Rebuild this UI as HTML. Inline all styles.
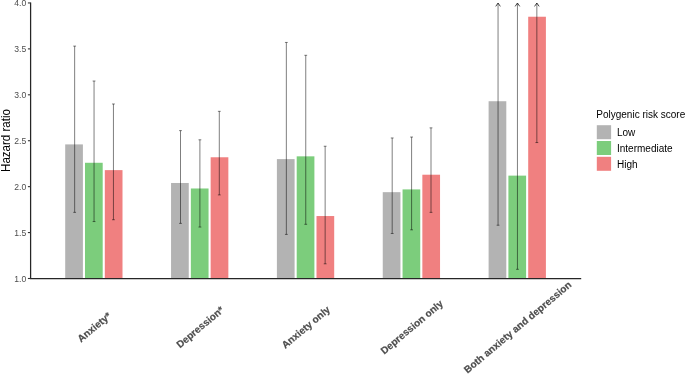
<!DOCTYPE html>
<html><head><meta charset="utf-8"><title>chart</title>
<style>
html,body{margin:0;padding:0;background:#fff;}
body{width:685px;height:374px;overflow:hidden;font-family:"Liberation Sans",sans-serif;}
svg{display:block;will-change:transform;}
text{font-family:"Liberation Sans",sans-serif;}
</style></head><body>
<svg width="685" height="374" viewBox="0 0 685 374">
<rect width="685" height="374" fill="#fff"/>

<rect x="65.20" y="144.40" width="17.70" height="134.10" fill="#b3b3b3"/>
<rect x="85.00" y="162.77" width="17.70" height="115.73" fill="#7ccd7c"/>
<rect x="104.80" y="170.12" width="17.70" height="108.38" fill="#f08080"/>
<rect x="171.05" y="182.98" width="17.70" height="95.52" fill="#b3b3b3"/>
<rect x="190.85" y="188.49" width="17.70" height="90.01" fill="#7ccd7c"/>
<rect x="210.65" y="157.26" width="17.70" height="121.24" fill="#f08080"/>
<rect x="276.90" y="159.10" width="17.70" height="119.40" fill="#b3b3b3"/>
<rect x="296.70" y="156.34" width="17.70" height="122.16" fill="#7ccd7c"/>
<rect x="316.50" y="216.04" width="17.70" height="62.46" fill="#f08080"/>
<rect x="382.75" y="192.16" width="17.70" height="86.34" fill="#b3b3b3"/>
<rect x="402.55" y="189.41" width="17.70" height="89.09" fill="#7ccd7c"/>
<rect x="422.35" y="174.71" width="17.70" height="103.79" fill="#f08080"/>
<rect x="488.60" y="101.23" width="17.70" height="177.27" fill="#b3b3b3"/>
<rect x="508.40" y="175.63" width="17.70" height="102.87" fill="#7ccd7c"/>
<rect x="528.20" y="16.73" width="17.70" height="261.77" fill="#f08080"/>
<path d="M74.65 212.37V46.12M73.25 212.37h2.8M73.25 46.12h2.8" fill="none" stroke="rgba(0,0,0,0.5)" stroke-width="1"/>
<path d="M94.05 221.55V81.02M92.65 221.55h2.8M92.65 81.02h2.8" fill="none" stroke="rgba(0,0,0,0.5)" stroke-width="1"/>
<path d="M113.45 219.72V103.99M112.05 219.72h2.8M112.05 103.99h2.8" fill="none" stroke="rgba(0,0,0,0.5)" stroke-width="1"/>
<path d="M180.50 223.39V130.62M179.10 223.39h2.8M179.10 130.62h2.8" fill="none" stroke="rgba(0,0,0,0.5)" stroke-width="1"/>
<path d="M199.90 227.06V139.81M198.50 227.06h2.8M198.50 139.81h2.8" fill="none" stroke="rgba(0,0,0,0.5)" stroke-width="1"/>
<path d="M219.30 194.92V111.33M217.90 194.92h2.8M217.90 111.33h2.8" fill="none" stroke="rgba(0,0,0,0.5)" stroke-width="1"/>
<path d="M286.35 234.41V42.45M284.95 234.41h2.8M284.95 42.45h2.8" fill="none" stroke="rgba(0,0,0,0.5)" stroke-width="1"/>
<path d="M305.75 224.31V55.30M304.35 224.31h2.8M304.35 55.30h2.8" fill="none" stroke="rgba(0,0,0,0.5)" stroke-width="1"/>
<path d="M325.15 263.80V146.24M323.75 263.80h2.8M323.75 146.24h2.8" fill="none" stroke="rgba(0,0,0,0.5)" stroke-width="1"/>
<path d="M392.20 233.49V137.97M390.80 233.49h2.8M390.80 137.97h2.8" fill="none" stroke="rgba(0,0,0,0.5)" stroke-width="1"/>
<path d="M411.60 229.82V137.05M410.20 229.82h2.8M410.20 137.05h2.8" fill="none" stroke="rgba(0,0,0,0.5)" stroke-width="1"/>
<path d="M431.00 212.37V127.87M429.60 212.37h2.8M429.60 127.87h2.8" fill="none" stroke="rgba(0,0,0,0.5)" stroke-width="1"/>
<path d="M498.05 225.23V3.50M496.65 225.23h2.8" fill="none" stroke="rgba(0,0,0,0.5)" stroke-width="1"/>
<path d="M495.75 6.40L498.05 3.00L500.35 6.40" fill="none" stroke="rgba(0,0,0,0.8)" stroke-width="0.9"/>
<path d="M517.45 269.31V3.50M516.05 269.31h2.8" fill="none" stroke="rgba(0,0,0,0.5)" stroke-width="1"/>
<path d="M515.15 6.40L517.45 3.00L519.75 6.40" fill="none" stroke="rgba(0,0,0,0.8)" stroke-width="0.9"/>
<path d="M536.85 142.56V3.50M535.45 142.56h2.8" fill="none" stroke="rgba(0,0,0,0.5)" stroke-width="1"/>
<path d="M534.55 6.40L536.85 3.00L539.15 6.40" fill="none" stroke="rgba(0,0,0,0.8)" stroke-width="0.9"/>
<path d="M30.6 2.4V278.5H581.2" fill="none" stroke="#262626" stroke-width="1.25"/>
<path d="M27.90 278.50H30.6" stroke="#333" stroke-width="1.1"/>
<text x="26.3" y="281.95" font-size="8.6" fill="#4d4d4d" text-anchor="end">1.0</text>
<path d="M27.90 232.57H30.6" stroke="#333" stroke-width="1.1"/>
<text x="26.3" y="236.02" font-size="8.6" fill="#4d4d4d" text-anchor="end">1.5</text>
<path d="M27.90 186.65H30.6" stroke="#333" stroke-width="1.1"/>
<text x="26.3" y="190.10" font-size="8.6" fill="#4d4d4d" text-anchor="end">2.0</text>
<path d="M27.90 140.73H30.6" stroke="#333" stroke-width="1.1"/>
<text x="26.3" y="144.18" font-size="8.6" fill="#4d4d4d" text-anchor="end">2.5</text>
<path d="M27.90 94.80H30.6" stroke="#333" stroke-width="1.1"/>
<text x="26.3" y="98.25" font-size="8.6" fill="#4d4d4d" text-anchor="end">3.0</text>
<path d="M27.90 48.88H30.6" stroke="#333" stroke-width="1.1"/>
<text x="26.3" y="52.33" font-size="8.6" fill="#4d4d4d" text-anchor="end">3.5</text>
<path d="M27.90 2.95H30.6" stroke="#333" stroke-width="1.1"/>
<text x="26.3" y="6.40" font-size="8.6" fill="#4d4d4d" text-anchor="end">4.0</text>
<text transform="translate(9.6,140.5) rotate(-90)" font-size="12.6" textLength="62.8" lengthAdjust="spacingAndGlyphs" fill="#000" text-anchor="middle">Hazard ratio</text>
<text transform="translate(94.15,327.10) rotate(-40)" y="3.5" font-size="10" font-weight="bold" fill="#4d4d4d" stroke="#4d4d4d" stroke-width="0.2" text-anchor="middle">Anxiety*</text>
<text transform="translate(200.00,327.10) rotate(-40)" y="3.5" font-size="10" font-weight="bold" fill="#4d4d4d" stroke="#4d4d4d" stroke-width="0.2" text-anchor="middle">Depression*</text>
<text transform="translate(305.85,327.10) rotate(-40)" y="3.5" font-size="10" font-weight="bold" fill="#4d4d4d" stroke="#4d4d4d" stroke-width="0.2" text-anchor="middle">Anxiety only</text>
<text transform="translate(411.70,327.10) rotate(-40)" y="3.5" font-size="10" font-weight="bold" fill="#4d4d4d" stroke="#4d4d4d" stroke-width="0.2" text-anchor="middle">Depression only</text>
<text transform="translate(517.55,327.10) rotate(-40)" y="3.5" font-size="10" font-weight="bold" fill="#4d4d4d" stroke="#4d4d4d" stroke-width="0.2" text-anchor="middle">Both anxiety and depression</text>
<text x="596.3" y="118.0" font-size="10" fill="#000">Polygenic risk score</text>
<rect x="596.8" y="125.20" width="14.3" height="14" fill="#b3b3b3"/>
<text x="617" y="136.30" font-size="10" fill="#000">Low</text>
<rect x="596.8" y="141.00" width="14.3" height="14" fill="#7ccd7c"/>
<text x="617" y="152.10" font-size="10" fill="#000">Intermediate</text>
<rect x="596.8" y="156.80" width="14.3" height="14" fill="#f08080"/>
<text x="617" y="167.90" font-size="10" fill="#000">High</text>
</svg></body></html>
